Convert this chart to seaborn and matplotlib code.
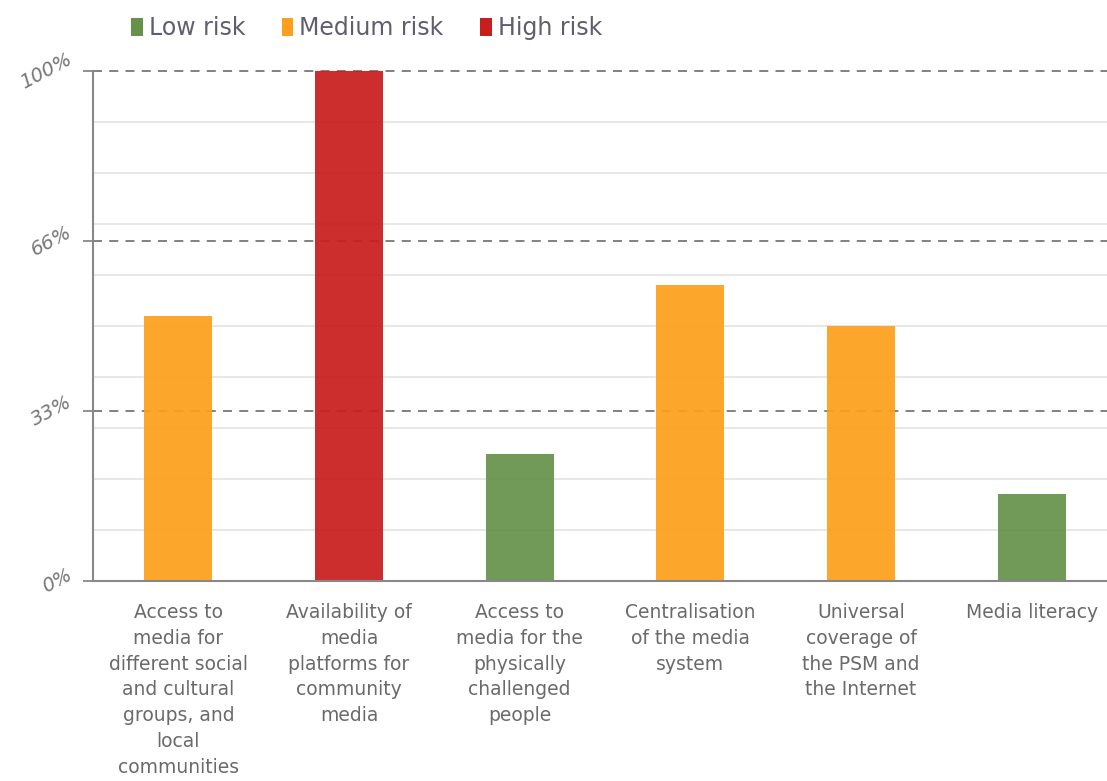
import matplotlib
matplotlib.use("Agg")
import matplotlib.pyplot as plt
import seaborn as sns
import pandas as pd
from matplotlib.patches import Patch

categories = [
    "Access to\nmedia for\ndifferent social\nand cultural\ngroups, and\nlocal\ncommunities",
    "Availability of\nmedia\nplatforms for\ncommunity\nmedia",
    "Access to\nmedia for the\nphysically\nchallenged\npeople",
    "Centralisation\nof the media\nsystem",
    "Universal\ncoverage of\nthe PSM and\nthe Internet",
    "Media literacy",
]
values = [52, 100, 25, 58, 50, 17]
risk = ["Medium risk", "High risk", "Low risk", "Medium risk", "Medium risk", "Low risk"]

risk_levels = ["Low risk", "Medium risk", "High risk"]
risk_colors = {"Low risk": "#66914a", "Medium risk": "#fca01c", "High risk": "#c81e1e"}

tick_values = [0, 100 / 3, 200 / 3, 100]
tick_labels = ["0%", "33%", "66%", "100%"]

df = pd.DataFrame({"category": categories, "value": values, "risk": risk})

sns.set_theme(style="white")
plt.rcParams["font.family"] = ["DejaVu Sans"]

fig = plt.figure(figsize=(11.07, 7.81), dpi=100)
ax = fig.add_axes([93 / 1107, 1 - 581 / 781, 1024 / 1107, 510 / 781])

# light minor grid every 10 %
for v in range(10, 100, 10):
    ax.axhline(v, color="#e3e3e3", lw=1.2, zorder=0)
# dashed risk thresholds
for v in tick_values[1:]:
    ax.axhline(v, color="#777777", lw=1.3, ls=(0, (5, 4)), zorder=1, clip_on=False)

sns.barplot(data=df, x="category", y="value", hue="risk", hue_order=risk_levels,
            palette=risk_colors, dodge=False, width=0.4, alpha=0.93, saturation=1,
            legend=False, ax=ax, zorder=2)
for p in ax.patches:
    p.set_clip_on(False)
    p.set_linewidth(0)

ax.set_xlim(-0.5, 5.5)
ax.set_ylim(0, 100)
ax.set_xlabel("")
ax.set_ylabel("")
ax.set_yticks(tick_values)
ax.set_yticklabels(tick_labels, rotation=28, color="#777777", fontsize=14,
                   va="center", ha="right", style="oblique")
ax.tick_params(axis="y", length=7, width=1.3, color="#888888", pad=6, left=True)
ax.tick_params(axis="x", length=0, pad=16)
for lbl in ax.get_xticklabels():
    lbl.set_fontsize(13.5)
    lbl.set_color("#6a6a6a")
    lbl.set_linespacing(1.45)
    lbl.set_va("top")

for side in ["top", "right"]:
    ax.spines[side].set_visible(False)
for side in ["left", "bottom"]:
    ax.spines[side].set_color("#888888")
    ax.spines[side].set_linewidth(1.5)

handles = [Patch(facecolor=risk_colors[r], edgecolor="none") for r in risk_levels]
fig.legend(handles, risk_levels, loc="upper left", bbox_to_anchor=(0.099, 1.007),
           ncol=3, frameon=False, fontsize=17, handlelength=0.5, handleheight=0.8,
           handletextpad=0.25, columnspacing=1.55, labelcolor="#5e5e6e")

fig.savefig("out.png", dpi=100, facecolor="white")
